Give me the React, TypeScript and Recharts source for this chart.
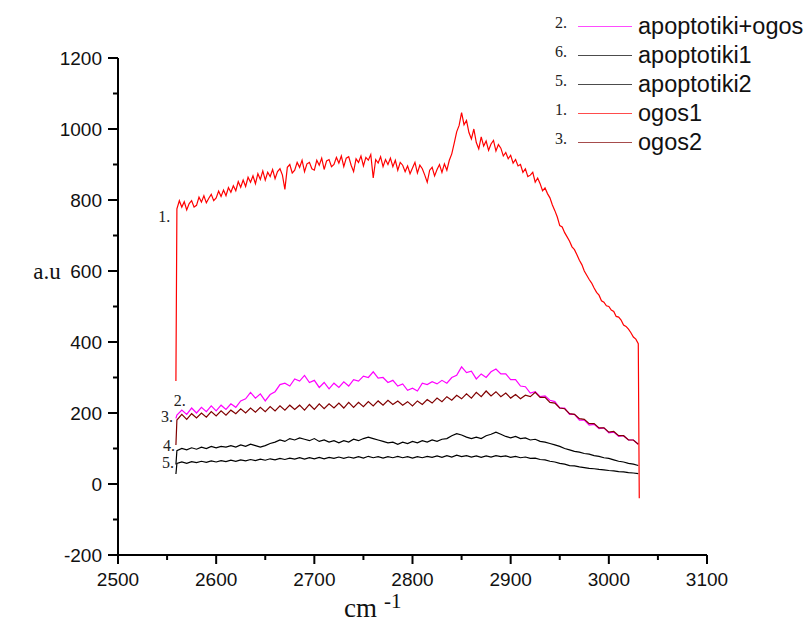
import { LineChart, Line, XAxis, YAxis, ReferenceDot } from 'recharts';

// scans run from 2560 to 3030 cm-1
const scanStart = 2560;
const redStep = 2.5; // ogos1 read every 2.5 cm-1
const step = 5; // other scans read every 5 cm-1

const ogos1 = [
  775, 798, 780, 795, 772, 790, 798, 780, 785, 808,
  794, 812, 792, 805, 816, 798, 806, 825, 810, 828,
  812, 835, 822, 840, 826, 852, 836, 856, 838, 864,
  850, 868, 846, 874, 858, 882, 856, 878, 866, 886,
  860, 880, 888, 870, 830, 892, 900, 876, 884, 906,
  892, 912, 880, 902, 906, 888, 884, 912, 898, 918,
  886, 910, 914, 894, 900, 920, 904, 924, 894, 918,
  922, 898, 880, 916, 906, 924, 896, 920, 912, 928,
  862, 914, 904, 922, 894, 914, 900, 918, 894, 912,
  884, 906, 898, 880, 896, 874, 890, 906, 876, 898,
  888, 870, 850, 884, 892, 868, 886, 900, 878, 902,
  884, 912, 930, 960, 992, 1010, 1046, 1012, 1024, 990,
  972, 1000, 962, 944, 978, 952, 966, 940, 958, 968,
  938, 956, 946, 924, 934, 916, 926, 904, 914, 896,
  900, 878, 888, 866, 870, 878, 850, 862, 846, 826,
  834, 818, 806, 786, 770, 752, 728, 724, 708, 696,
  684, 668, 660, 646, 630, 618, 600, 588, 576, 566,
  552, 540, 532, 516, 512, 502, 500, 490, 486, 472,
  470, 462, 448, 444, 436, 426, 414, 408, 395,
];

const apoptotikiOgos = [
  194, 208, 196, 214, 200, 216, 204, 220, 206, 222,
  210, 226, 216, 234, 240, 258, 242, 254, 234, 252,
  260, 280, 284, 276, 296, 290, 306, 286, 292, 272,
  286, 268, 284, 272, 288, 276, 294, 290, 304, 300,
  316, 298, 300, 286, 292, 276, 282, 264, 270, 262,
  284, 280, 288, 282, 292, 284, 300, 306, 330, 314,
  318, 296, 310, 300, 316, 324, 310, 310, 294, 294,
  276, 274, 256, 260, 246, 248, 236, 232, 214, 214,
  196, 196, 180, 180, 166, 168, 156, 158, 144, 146,
  134, 136, 124, 124, 112,
];

const ogos2 = [
  180, 196, 182, 198, 186, 200, 188, 204, 192, 206,
  194, 208, 198, 212, 200, 214, 202, 216, 204, 218,
  206, 220, 208, 222, 210, 222, 208, 224, 210, 226,
  212, 226, 214, 228, 214, 230, 216, 230, 218, 232,
  220, 234, 222, 236, 224, 234, 222, 232, 220, 234,
  224, 238, 228, 242, 232, 246, 236, 250, 240, 254,
  242, 258, 246, 262, 248, 260, 246, 256, 242, 252,
  240, 250, 246, 258, 244, 244, 230, 228, 214, 212,
  198, 196, 184, 182, 170, 170, 158, 158, 146, 148,
  136, 136, 124, 124, 112,
];

const apoptotiki1 = [
  94, 100, 96, 102, 98, 104, 100, 106, 102, 106,
  104, 108, 104, 110, 106, 112, 108, 104, 108, 114,
  118, 124, 120, 128, 124, 130, 126, 122, 128, 120,
  124, 118, 122, 116, 122, 118, 126, 122, 128, 132,
  128, 124, 120, 116, 118, 112, 118, 114, 120, 116,
  122, 118, 124, 120, 126, 128, 136, 142, 138, 132,
  128, 132, 128, 136, 140, 146, 140, 134, 130, 134,
  128, 130, 124, 126, 120, 118, 114, 110, 106, 100,
  96, 92, 90, 86, 84, 80, 78, 74, 72, 68,
  64, 62, 58, 56, 52,
];

const apoptotiki2 = [
  58, 62, 58, 63, 60, 64, 61, 65, 62, 66,
  63, 67, 64, 68, 65, 69, 66, 70, 67, 71,
  68, 72, 69, 73, 70, 74, 70, 74, 71, 75,
  71, 75, 72, 76, 72, 76, 73, 77, 73, 78,
  74, 77, 73, 77, 74, 78, 74, 77, 73, 77,
  74, 78, 75, 79, 75, 80, 76, 81, 77, 80,
  76, 79, 75, 79, 76, 80, 77, 79, 75, 78,
  74, 76, 72, 73, 69, 68, 64, 62, 58, 56,
  52, 51, 48, 46, 44, 43, 41, 40, 38, 37,
  35, 34, 32, 31, 29,
];

// vertical edges where each scan starts / ends
const leadX = 2559;
const trailX = 3031;
const leadValues: Record<string, number> = { ogos1: 290, apoptotikiOgos: 185, ogos2: 110, apoptotiki1: 55, apoptotiki2: 28 };
const trailValues: Record<string, number> = { ogos1: -40 };

const xTicks = [2500, 2550, 2600, 2650, 2700, 2750, 2800, 2850, 2900, 2950, 3000, 3050, 3100];
const yTicks = [-200, -100, 0, 100, 200, 300, 400, 500, 600, 700, 800, 900, 1000, 1100, 1200];

const legendItems = [
  { key: 'apoptotikiOgos', num: '2.', name: 'apoptotiki+ogos', color: '#ff00ff' },
  { key: 'apoptotiki1', num: '6.', name: 'apoptotiki1', color: '#000000' },
  { key: 'apoptotiki2', num: '5.', name: 'apoptotiki2', color: '#000000' },
  { key: 'ogos1', num: '1.', name: 'ogos1', color: '#ff0000' },
  { key: 'ogos2', num: '3.', name: 'ogos2', color: '#800000' },
];

// curve numbers, placed in data coordinates
const curveLabels = [
  { text: '1.', x: 2547, y: 755 },
  { text: '2.', x: 2563, y: 236 },
  { text: '3.', x: 2550, y: 190 },
  { text: '4.', x: 2552, y: 108 },
  { text: '5.', x: 2551, y: 60 },
];

const seriesValues: Record<string, { values: number[]; step: number }> = {
  ogos1: { values: ogos1, step: redStep },
  apoptotikiOgos: { values: apoptotikiOgos, step },
  ogos2: { values: ogos2, step },
  apoptotiki1: { values: apoptotiki1, step },
  apoptotiki2: { values: apoptotiki2, step },
};

const buildSeries = (key: string) => {
  const { values, step: s } = seriesValues[key];
  const rows = values.map((v, i) => ({ x: scanStart + i * s, v }));
  if (leadValues[key] != null) rows.unshift({ x: leadX, v: leadValues[key] });
  if (trailValues[key] != null) rows.push({ x: trailX, v: trailValues[key] });
  return rows;
};

const drawOrder = ['apoptotikiOgos', 'ogos2', 'apoptotiki1', 'apoptotiki2', 'ogos1'];
const colorOf = (key: string) => legendItems.find((l) => l.key === key)!.color;

const sans = '"Liberation Sans", Arial, sans-serif';
const serif = '"Liberation Serif", "Times New Roman", serif';

const YTick = (props: any) => {
  const { x, y, payload } = props;
  const major = payload.value % 200 === 0;
  return (
    <g>
      <line x1={x - (major ? 10 : 5)} x2={x} y1={y} y2={y} stroke="#000" strokeWidth={2} />
      {major && (
        <text x={x - 16} y={y} dy="0.36em" textAnchor="end" fontFamily={sans} fontSize={19} fill="#111">
          {payload.value}
        </text>
      )}
    </g>
  );
};

const XTick = (props: any) => {
  const { x, y, payload } = props;
  const major = payload.value % 100 === 0;
  return (
    <g>
      <line x1={x} x2={x} y1={y} y2={y + (major ? 9 : 5)} stroke="#000" strokeWidth={2} />
      {major && (
        <text x={x} y={y + 24} dy="0.36em" textAnchor="middle" fontFamily={sans} fontSize={19} fill="#111">
          {payload.value}
        </text>
      )}
    </g>
  );
};

const CurveLabel = (text: string) => (props: any) => {
  const { viewBox } = props;
  return (
    <text x={viewBox.x} y={viewBox.y} dy="0.35em" textAnchor="middle" fontFamily={serif} fontSize={16} fill="#222">
      {text}
    </text>
  );
};

export default function App() {
  return (
    <div style={{ position: 'relative', width: 809, height: 623, background: '#fff' }}>
      <style>{'body{margin:0}'}</style>
      <LineChart width={809} height={623} margin={{ top: 58, right: 102, bottom: 0, left: 0 }}>
        <XAxis
          dataKey="x"
          type="number"
          domain={[2500, 3100]}
          ticks={xTicks}
          interval={0}
          height={68}
          tickSize={0}
          tickMargin={0}
          tickLine={false}
          axisLine={{ stroke: '#000', strokeWidth: 2 }}
          tick={<XTick />}
          allowDuplicatedCategory={false}
        />
        <YAxis
          type="number"
          domain={[-200, 1200]}
          ticks={yTicks}
          interval={0}
          width={118}
          tickSize={0}
          tickMargin={0}
          tickLine={false}
          axisLine={{ stroke: '#000', strokeWidth: 2 }}
          tick={<YTick />}
        />
        {drawOrder.map((key) => (
          <Line
            key={key}
            data={buildSeries(key)}
            dataKey="v"
            type="linear"
            stroke={colorOf(key)}
            strokeWidth={1.2}
            dot={false}
            activeDot={false}
            isAnimationActive={false}
          />
        ))}
        {curveLabels.map((c) => (
          <ReferenceDot key={c.text} x={c.x} y={c.y} r={0} fill="none" stroke="none" label={CurveLabel(c.text)} />
        ))}
      </LineChart>

      {/* axis titles */}
      <svg width={809} height={623} style={{ position: 'absolute', left: 0, top: 0, pointerEvents: 'none' }}>
        <text x={47} y={271} dy="0.35em" textAnchor="middle" fontFamily={serif} fontSize={23} fill="#111">
          a.u
        </text>
        <text x={344} y={617} fontFamily={serif} fontSize={27} fill="#111">
          cm
        </text>
        <text x={384} y={608} fontFamily={serif} fontSize={21} fill="#111">
          -1
        </text>
      </svg>

      {/* legend */}
      <div style={{ position: 'absolute', left: 555, top: 12, width: 254 }}>
        {legendItems.map((item) => (
          <div key={item.key} style={{ display: 'flex', alignItems: 'center', height: 29 }}>
            <span style={{ fontFamily: serif, fontSize: 16, width: 23, position: 'relative', top: -4, color: '#222' }}>
              {item.num}
            </span>
            <span style={{ display: 'inline-block', width: 54, height: 0, borderTop: `1.5px solid ${item.color}`, opacity: 0.7 }} />
            <span style={{ fontFamily: sans, fontSize: 23.5, marginLeft: 6, color: '#111', whiteSpace: 'nowrap' }}>{item.name}</span>
          </div>
        ))}
      </div>
    </div>
  );
}
